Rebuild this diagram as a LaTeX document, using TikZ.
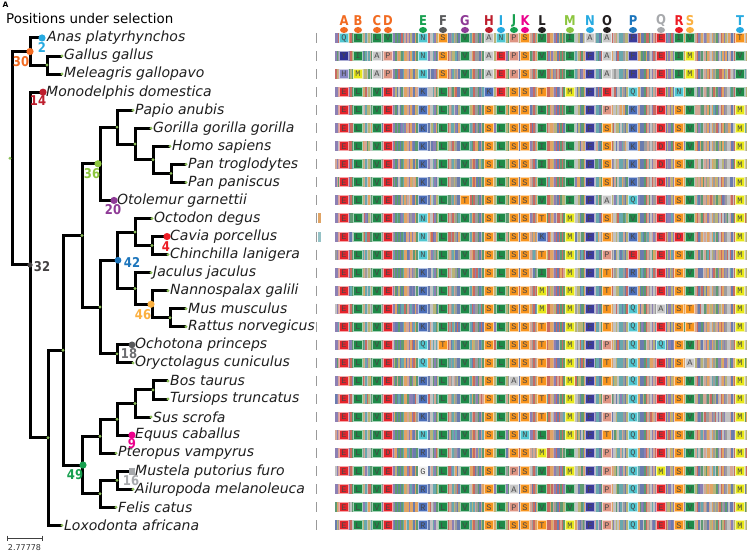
\documentclass[tikz,border=0pt]{standalone}
\usepackage{fontspec}
\usetikzlibrary{calc}
\setmainfont{DejaVu Sans}
\newfontfamily\numfont[FakeStretch=0.86]{DejaVu Sans}
\newfontfamily\aafont{Liberation Mono}
% marker colours
\definecolor{cOrange}{HTML}{F26B21}
\definecolor{cGreen}{HTML}{17A04F}
\definecolor{cDGrey}{HTML}{58595B}
\definecolor{cMGrey}{HTML}{6D6E71}
\definecolor{cPurple}{HTML}{8E3A96}
\definecolor{cDRed}{HTML}{BE1E2D}
\definecolor{cLBlue}{HTML}{27AAE1}
\definecolor{cMagenta}{HTML}{EC008C}
\definecolor{cBlack}{HTML}{231F20}
\definecolor{cLGreen}{HTML}{8DC63F}
\definecolor{cBlue}{HTML}{1C75BC}
\definecolor{cLGrey}{HTML}{A7A9AC}
\definecolor{cRed}{HTML}{ED1C24}
\definecolor{cLOrange}{HTML}{FBB040}
\definecolor{dotg}{HTML}{8DBF5A}
% amino-acid colours
\definecolor{aaE}{HTML}{E5242B}\colorlet{aaD}{aaE}
\definecolor{aaL}{HTML}{1E8A48}\colorlet{aaV}{aaL}\colorlet{aaI}{aaL}
\definecolor{aaK}{HTML}{4A6DB8}\colorlet{aaR}{aaK}
\definecolor{aaN}{HTML}{4FC6D0}\colorlet{aaQ}{aaN}
\definecolor{aaS}{HTML}{F7941D}\colorlet{aaT}{aaS}
\definecolor{aaA}{HTML}{C8C8C8}
\definecolor{aaP}{HTML}{DE9482}
\definecolor{aaF}{HTML}{3B3B9B}
\definecolor{aaM}{HTML}{E6E619}
\definecolor{aaY}{HTML}{2E3192}
\definecolor{aaH}{HTML}{8787C4}
\definecolor{aaG}{HTML}{F0F0F0}
% stripe palette (muted)
\definecolor{st0}{HTML}{9C9C9C}
\definecolor{st1}{HTML}{C2C2C2}
\definecolor{st2}{HTML}{5E9A72}
\definecolor{st3}{HTML}{E0A465}
\definecolor{st4}{HTML}{6A7CAE}
\definecolor{st5}{HTML}{68A8AE}
\definecolor{st6}{HTML}{D4A696}
\definecolor{st7}{HTML}{C86A62}
\definecolor{st8}{HTML}{8C80B4}
\definecolor{st9}{HTML}{B8B478}
% alignment columns
\def\setcolx#1#2{\expandafter\def\csname colx#1\endcsname{#2}}
\setcolx{1}{344}\setcolx{2}{358}\setcolx{3}{377}\setcolx{4}{388}\setcolx{5}{423}
\setcolx{6}{443}\setcolx{7}{465}\setcolx{8}{489}\setcolx{9}{501}\setcolx{10}{514}
\setcolx{11}{525}\setcolx{12}{542}\setcolx{13}{570}\setcolx{14}{590}\setcolx{15}{607}
\setcolx{16}{633}\setcolx{17}{661}\setcolx{18}{679}\setcolx{19}{690}\setcolx{20}{740}
\newcount\aacol
\def\aarow#1#2{\global\aacol=0 \def\rowy{#1}\aaloop#2\relax}
\def\aaloop#1{\ifx\relax#1\else\aabox{#1}\expandafter\aaloop\fi}
\def\aabox#1{\global\advance\aacol by 1
  \edef\xx{\csname colx\the\aacol\endcsname}%
  \node[aabox, fill=aa#1, draw=aa#1!40!white] at (\xx,\rowy) {#1};}
\def\rowys{38.0,56.05,74.1,92.15,110.2,128.25,146.3,164.35,182.4,200.45,218.5,236.55,254.6,272.65,290.7,308.75,326.8,344.85,362.9,380.95,399.0,417.05,435.1,453.15,471.2,489.25,507.3,525.35}
\begin{document}
\begin{tikzpicture}[x=1pt,y=-1pt,
  tree/.style={line width=3pt, black, line join=miter},
  taxon/.style={anchor=west, inner sep=0pt, font=\itshape\fontsize{14}{14}\selectfont, text=black!88},
  num/.style={inner sep=0pt, font=\numfont\bfseries\fontsize{13.5}{13.5}\selectfont},
  hdr/.style={inner sep=0pt, font=\numfont\bfseries\fontsize{13.5}{13.5}\selectfont},
  aabox/.style={inner sep=0pt, minimum width=9pt, minimum height=9pt, line width=1pt,
    font=\aafont\fontsize{8.5}{8.5}\selectfont, text=black!72}]
\useasboundingbox[fill=white] (0,0) rectangle (747,553);

% ---------- alignment stripes ----------
\pgfmathsetseed{2718}
\foreach \i in {0,...,274}{%
  \pgfmathrandominteger{\base}{0}{9}%
  \pgfmathsetmacro{\xa}{335+1.5*\i}%
  \foreach \ry in \rowys {%
    \pgfmathrandominteger{\vv}{0}{99}%
    \ifnum\vv<30 \pgfmathrandominteger{\cc}{0}{9}\else\let\cc\base\fi
    \fill[st\cc] (\xa,\ry-5) rectangle ++(1.55,10);%
  }%
}
\foreach \ry in \rowys {\draw[black!40, line width=1pt] (316.5,\ry-5) -- (316.5,\ry+5);}
\fill[st3] (318,213.5) rectangle (321,223.5);
\fill[st5!70!white] (318,231.55) rectangle (320.5,241.55);

% ---------- selected positions ----------
\aarow{38.0}{QLLVNSVANPSVIAAFEIVT}
\aarow{56.05}{YIAPNSVAEPSVIFAFEIMV}
\aarow{74.1}{HMAPNSVAEPSVIFAFEIMV}
\aarow{92.15}{ELVEKLVKESSTMFEQENVV}
\aarow{110.2}{ELVEKLVSLSSIIFPKDSVM}
\aarow{128.25}{ELVEKLVSLSSILFSKDSVM}
\aarow{146.3}{ELVEKLVSLSSILFSKDSVM}
\aarow{164.35}{ELVEKLVSLSSILFSKDSVM}
\aarow{182.4}{ELVEKLVSLSSILFSKDSVM}
\aarow{200.45}{ELVEKLTSLSSVIFAQESVM}
\aarow{218.5}{ELVENLVSLSSTMFSVESVM}
\aarow{236.55}{ELVENLVSLSSKMFSKEDVM}
\aarow{254.6}{ELVENLVSLSSTMFPEESVM}
\aarow{272.65}{ELVEKLVSLSSIMFTRESVM}
\aarow{290.7}{ELVEKLVSLSSMMFTKESIM}
\aarow{308.75}{ELVEKLVSLSSMMFTQASTM}
\aarow{326.8}{ELVEKLVSLSSTMFTQESTM}
\aarow{344.85}{ELVEQTVSLSSTMFPQQSVM}
\aarow{362.9}{ELVEQLVSLSSTMFTQESAM}
\aarow{380.95}{ELVERLVSLASTMFTQESVM}
\aarow{399.0}{ELVEKLVSLSSTMFPQESVM}
\aarow{417.05}{ELVEKLVSLSSTMFPQESVM}
\aarow{435.1}{ELVENLVSLSNLMFTQESVM}
\aarow{453.15}{ELVDRLVSLSSMIFPQESVM}
\aarow{471.2}{ELVEGLVSLPSVMFPQMSVM}
\aarow{489.25}{ELVERLVSLASIVFPQESVM}
\aarow{507.3}{ELVERLVSLPSVVFPQESVM}
\aarow{525.35}{ELVERLVSLSSTMFPQESLM}

% ---------- header ----------
\foreach \hl/\hx/\hc in {A/344/cOrange, B/358/cOrange, C/377/cOrange, D/388/cOrange,
  E/423/cGreen, F/443/cDGrey, G/465/cPurple, H/489/cDRed, I/501/cLBlue, J/514/cGreen,
  K/525/cMagenta, L/542/cBlack, M/570/cLGreen, N/590/cLBlue, O/607/cBlack, P/633/cBlue,
  Q/661/cLGrey, R/679/cRed, S/690/cLOrange, T/740/cLBlue}{%
  \node[hdr, text=\hc] (h\hl) at (\hx,20.5) {\hl};
  \fill[\hc] (\hx,30) ellipse [x radius=4pt, y radius=3pt];
}

% ---------- titles ----------
\node[anchor=west, inner sep=0pt, font=\bfseries\fontsize{7.5}{7.5}\selectfont] (panel) at (2.5,5) {A};
\node[anchor=west, inner sep=0pt, font=\fontsize{13.4}{13.4}\selectfont] (title) at (6,18.5) {Positions under selection};

% ---------- tree coordinates ----------
\coordinate (root) at (12,158.25);
\coordinate (aves) at (30,51.54);
\coordinate (galli) at (47,65.08);
\coordinate (mamm) at (30,264.97);
\coordinate (euth) at (48,437.78);
\coordinate (boreo) at (63,350.2);
\coordinate (euarch) at (82,235.43);
\coordinate (primates) at (100,163.79);
\coordinate (catar) at (117,127.12);
\coordinate (homin) at (135,144.04);
\coordinate (homopan) at (153,159.84);
\coordinate (pan) at (171,173.38);
\coordinate (glires) at (100,307.06);
\coordinate (rodentia) at (117,260.24);
\coordinate (hystr) at (135,232.04);
\coordinate (cavchin) at (152,245.58);
\coordinate (myom) at (135,288.44);
\coordinate (muroid) at (152,304.24);
\coordinate (murinae) at (170,317.78);
\coordinate (lago) at (117,353.88);
\coordinate (laura) at (82,465);
\coordinate (scrot) at (100,436.23);
\coordinate (cetequ) at (117,419.31);
\coordinate (cetart) at (135,403.51);
\coordinate (bostur) at (153,389.98);
\coordinate (canif) at (117,480.23);
\coordinate (carn) at (100,493.76);
% tips
\coordinate (anas) at (42,38.0);
\coordinate (gallus) at (62,56.05);
\coordinate (meleagris) at (62,74.1);
\coordinate (monodelphis) at (43,92.15);
\coordinate (papio) at (133,110.2);
\coordinate (gorilla) at (151,128.25);
\coordinate (homo) at (170,146.3);
\coordinate (pantrog) at (186,164.35);
\coordinate (panpan) at (186,182.4);
\coordinate (otolemur) at (114,200.45);
\coordinate (octodon) at (152,218.5);
\coordinate (cavia) at (167,236.55);
\coordinate (chinchilla) at (168,254.6);
\coordinate (jaculus) at (151,272.65);
\coordinate (nanno) at (168,290.7);
\coordinate (mus) at (186,308.75);
\coordinate (rattus) at (186,326.8);
\coordinate (ochotona) at (132,344.85);
\coordinate (oryct) at (133,362.9);
\coordinate (bos) at (168,380.95);
\coordinate (tursiops) at (168,399.0);
\coordinate (sus) at (151,417.05);
\coordinate (equus) at (132,435.1);
\coordinate (pteropus) at (116,453.15);
\coordinate (mustela) at (132,471.2);
\coordinate (ailuropoda) at (133,489.25);
\coordinate (felis) at (116,507.3);
\coordinate (loxodonta) at (62,525.35);

% ---------- tree edges ----------
\foreach \p/\q in {root/aves, root/mamm, aves/anas, aves/galli, galli/gallus, galli/meleagris,
  mamm/monodelphis, mamm/euth, euth/boreo, euth/loxodonta, boreo/euarch, boreo/laura,
  euarch/primates, euarch/glires, primates/catar, primates/otolemur, catar/papio, catar/homin,
  homin/gorilla, homin/homopan, homopan/homo, homopan/pan, pan/pantrog, pan/panpan,
  glires/rodentia, glires/lago, rodentia/hystr, rodentia/myom, hystr/octodon, hystr/cavchin,
  cavchin/cavia, cavchin/chinchilla, myom/jaculus, myom/muroid, muroid/nanno, muroid/murinae,
  murinae/mus, murinae/rattus, lago/ochotona, lago/oryct, laura/scrot, laura/carn,
  scrot/cetequ, scrot/pteropus, cetequ/cetart, cetequ/equus, cetart/bostur, cetart/sus,
  bostur/bos, bostur/tursiops, carn/canif, carn/felis, canif/mustela, canif/ailuropoda}
  {\draw[tree] (\p) |- (\q);}

% small node / tip dots
\foreach \n in {galli, euth, boreo, euarch, catar, homin, homopan, pan, glires, hystr, cavchin,
  myom, murinae, lago, scrot, cetequ, cetart, bostur, canif, carn,
  gallus, meleagris, papio, gorilla, homo, pantrog, panpan, octodon, chinchilla, jaculus, nanno,
  mus, rattus, oryct, bos, tursiops, sus, pteropus, ailuropoda, felis, loxodonta}
  {\fill[dotg] (\n) circle[radius=1.6pt];}
\fill[dotg] (10,158.25) circle[radius=1.6pt];

% ---------- taxon labels ----------
\foreach \t/\nm/\dx in {anas/Anas platyrhynchos/5, gallus/Gallus gallus/2, meleagris/Meleagris gallopavo/2,
  monodelphis/Monodelphis domestica/3, papio/Papio anubis/2, gorilla/Gorilla gorilla gorilla/2,
  homo/Homo sapiens/2, pantrog/Pan troglodytes/2, panpan/Pan paniscus/2, otolemur/Otolemur garnettii/3,
  octodon/Octodon degus/2, cavia/Cavia porcellus/3, chinchilla/Chinchilla lanigera/2,
  jaculus/Jaculus jaculus/2, nanno/Nannospalax galili/2, mus/Mus musculus/2, rattus/Rattus norvegicus/2,
  ochotona/Ochotona princeps/3, oryct/Oryctolagus cuniculus/2, bos/Bos taurus/2,
  tursiops/Tursiops truncatus/2, sus/Sus scrofa/2, equus/Equus caballus/3, pteropus/Pteropus vampyrus/2,
  mustela/Mustela putorius furo/3, ailuropoda/Ailuropoda melanoleuca/2, felis/Felis catus/2,
  loxodonta/Loxodonta africana/2}
  {\node[taxon] (l-\t) at ([xshift=\dx pt]\t) {\nm};}

% ---------- selection markers ----------
\fill[cLBlue] (anas) circle[radius=3.6pt];
\fill[cOrange] (aves) circle[radius=3.6pt];
\fill[cDRed] (monodelphis) circle[radius=3.6pt];
\fill[cLGreen] (98,163.79) circle[radius=3.6pt];
\fill[cPurple] (otolemur) circle[radius=3.6pt];
\fill[cRed] (cavia) circle[radius=3.6pt];
\fill[cBlue] (118,260.24) circle[radius=3.4pt];
\fill[cBlack!85] (mamm) circle[radius=2.6pt];
\fill[cLOrange] (151,304.24) circle[radius=3.6pt];
\fill[cDGrey] (ochotona) circle[radius=3.4pt];
\fill[cMagenta] (equus) circle[radius=3.6pt];
\fill[cGreen] (83,465) circle[radius=3.6pt];
\fill[cLGrey] ($(mustela)+(-3.4,-3.4)$) rectangle ($(mustela)+(3.4,3.4)$);

\node[num, text=cLBlue] (n2) at (42,47) {2};
\node[num, text=cOrange] (n30) at (21,62) {30};
\node[num, text=cDRed] (n14) at (38,101) {14};
\node[num, text=cLGreen] (n36) at (92,174) {36};
\node[num, text=cPurple] (n20) at (113,210) {20};
\node[num, text=cRed] (n4) at (166,247) {4};
\node[num, text=cBlue] (n42) at (132,262) {42};
\node[num, text=cBlack!85] (n32) at (42,267) {32};
\node[num, text=cLOrange] (n46) at (143,315) {46};
\node[num, text=cMGrey] (n18) at (129,354) {18};
\node[num, text=cMagenta] (n9) at (132,444) {9};
\node[num, text=cGreen] (n49) at (75,475) {49};
\node[num, text=cLGrey] (n16) at (131,481) {16};

% ---------- scale bar ----------
\coordinate (sbl) at (7,538);
\coordinate (sbr) at (42,538);
\draw[black!75, line width=0.8pt] (sbl) -- (sbr);
\draw[black!75, line width=0.8pt] ($(sbl)+(0,-2.5)$) -- ($(sbl)+(0,2.5)$);
\draw[black!75, line width=0.8pt] ($(sbr)+(0,-2.5)$) -- ($(sbr)+(0,2.5)$);
\node[inner sep=0pt, font=\fontsize{8}{8}\selectfont, text=black!80] (sbt) at (24.5,548) {2.77778};
\end{tikzpicture}
\end{document}
